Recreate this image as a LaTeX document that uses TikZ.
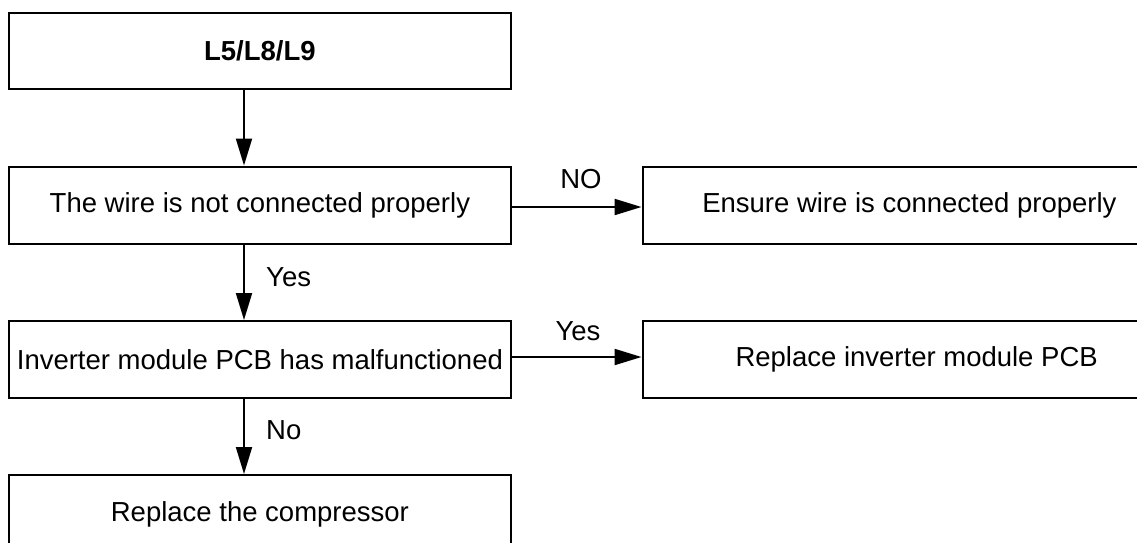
\documentclass[tikz,border=0pt]{standalone}
\usepackage{fontspec}
\setmainfont{Liberation Sans}
\usetikzlibrary{arrows.meta}
\newcommand{\lowtx}[1]{\raisebox{-3pt}{#1}}
\begin{document}
\begin{tikzpicture}[x=1pt,y=-1pt,
  box/.style={draw, line width=2.3pt, rectangle, anchor=north west, inner sep=0pt,
    font=\fontsize{27.5}{30}\selectfont},
  conn/.style={line width=2pt, -{Triangle[length=27pt,width=16pt]}},
  lbl/.style={font=\fontsize{27.5}{30}\selectfont, inner sep=0pt}]
\clip (0,0) rectangle (1137,542);
\useasboundingbox (0,0) rectangle (1137,542);
\fill[white] (0,0) rectangle (1137,542);
\node[box, minimum width=502.5pt, minimum height=76pt] (b1) at (7.5,12) {\lowtx{\textbf{L5/L8/L9}}};
\node[box, minimum width=502.5pt, minimum height=77pt] (b2) at (7.5,165.5) {\lowtx{The wire is not connected properly}};
\node[box, minimum width=533.5pt, minimum height=77pt] (b3) at (641.5,165.5) {\lowtx{Ensure wire is connected properly}};
\node[box, minimum width=502.5pt, minimum height=76.5pt] (b4) at (7.5,320) {\lowtx{Inverter module PCB has malfunctioned}};
\node[box, minimum width=548pt, minimum height=77pt] (b5) at (641.5,320) {\lowtx{Replace inverter module PCB}};
\node[box, minimum width=502.5pt, minimum height=78pt] (b6) at (7.5,474) {\lowtx{Replace the compressor}};
\draw[conn] (b1.south -| 244,0) -- (b2.north -| 244,0);
\draw[conn] (b2.south -| 244,0) -- (b4.north -| 244,0);
\draw[conn] (b4.south -| 244,0) -- (b6.north -| 244,0);
\draw[conn] (b2.east |- 0,207) -- (b3.west |- 0,207);
\draw[conn] (b4.east |- 0,357) -- (b5.west |- 0,357);
\node[lbl] (l1) at (581,179) {NO};
\node[lbl] (l2) at (578,331) {Yes};
\node[lbl, anchor=west] (l3) at (266,277) {Yes};
\node[lbl, anchor=west] (l4) at (266,430) {No};
\end{tikzpicture}
\end{document}
